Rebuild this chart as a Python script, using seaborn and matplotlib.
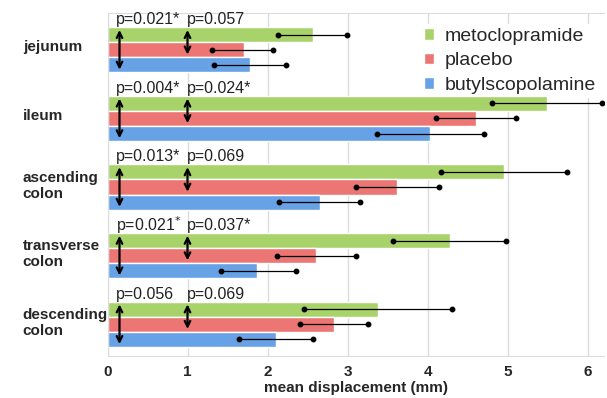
import pandas as pd
import matplotlib
matplotlib.use('Agg')
import matplotlib.pyplot as plt
import matplotlib.transforms as mtransforms
import seaborn as sns

sns.set_style('white')
plt.rcParams['font.family'] = ['Liberation Sans', 'DejaVu Sans']

# segments and treatments
segments = ['jejunum', 'ileum', 'ascending\ncolon', 'transverse\ncolon', 'descending\ncolon']
drugs = ['metoclopramide', 'placebo', 'butylscopolamine']
colors = ['#a8d26a', '#eb7673', '#68a2e6']

# mean displacement (mm)
metoclopramide = [2.57, 5.49, 4.96, 4.28, 3.38]
placebo = [1.70, 4.60, 3.62, 2.61, 2.83]
butylscopolamine = [1.78, 4.03, 2.65, 1.87, 2.10]

# error lines (low, high) as drawn
meto_lo = [2.13, 4.80, 4.17, 3.57, 2.46]
meto_hi = [2.99, 6.18, 5.74, 4.98, 4.31]
plac_lo = [1.31, 4.11, 3.11, 2.12, 2.41]
plac_hi = [2.07, 5.10, 4.14, 3.11, 3.26]
buty_lo = [1.33, 3.37, 2.14, 1.42, 1.64]
buty_hi = [2.23, 4.71, 3.15, 2.35, 2.57]

# p-values (vs butylscopolamine, vs placebo)
p_buty = ['p=0.021*', 'p=0.004*', 'p=0.013*', 'p=0.021$^{*}$', 'p=0.056']
p_plac = ['p=0.057', 'p=0.024*', 'p=0.069', 'p=0.037*', 'p=0.069']

df = pd.DataFrame({
    'segment': segments * 3,
    'drug': [d for d in drugs for _ in segments],
    'value': metoclopramide + placebo + butylscopolamine,
    'lo': meto_lo + plac_lo + buty_lo,
    'hi': meto_hi + plac_hi + buty_hi,
})

fig = plt.figure(figsize=(6.07, 3.98), dpi=100)
ax = fig.add_axes([107.5 / 607, 1 - 355.7 / 398, (603.5 - 107.5) / 607, (355.7 - 12.7) / 398])

sns.barplot(data=df, y='segment', x='value', hue='drug', order=segments, hue_order=drugs,
            palette=colors, orient='h', width=0.66, saturation=1, errorbar=None, ax=ax, zorder=2)

# error lines with dots, following bar order
for bar, (_, row) in zip(ax.patches, df.iterrows()):
    yc = bar.get_y() + bar.get_height() / 2
    ax.plot([row['lo'], row['hi']], [yc, yc], color='black', lw=0.9, zorder=4,
            marker='o', markersize=3.2)

# double arrows and p-values
n = len(segments)
for i in range(n):
    g = ax.patches[i]
    r = ax.patches[n + i]
    b = ax.patches[2 * n + i]
    top = g.get_y()
    ax.annotate('', xy=(0.15, top), xytext=(0.15, b.get_y() + b.get_height()),
                arrowprops=dict(arrowstyle='<->', color='black', lw=1.6, mutation_scale=10), zorder=5)
    ax.annotate('', xy=(1.0, top), xytext=(1.0, r.get_y() + r.get_height()),
                arrowprops=dict(arrowstyle='<->', color='black', lw=1.6, mutation_scale=10), zorder=5)
    ax.text(0.1, i - 0.44, p_buty[i], fontsize=11.5, va='center', ha='left', color='#222222')
    ax.text(0.99, i - 0.44, p_plac[i], fontsize=11.5, va='center', ha='left', color='#222222')

ax.set_xlim(0, 6.2)
ax.set_ylim(4.459, -0.541)
ax.set_xticks(range(7))
ax.set_xticklabels([str(t) for t in range(7)], fontsize=11, fontweight='bold')
ax.set_yticklabels(segments, fontsize=11, fontweight='bold', ha='left')
ax.tick_params(axis='y', length=0, pad=61)
ax.tick_params(axis='x', length=0, pad=7)
# labels sit a little above the bar groups
shift = mtransforms.ScaledTranslation(0, 4 / 100, fig.dpi_scale_trans)
for lab in ax.get_yticklabels():
    lab.set_transform(lab.get_transform() + shift)
ax.set_ylabel('')
ax.set_xlabel('mean displacement (mm)', fontsize=11, fontweight='bold', labelpad=1)
ax.xaxis.grid(True, color='#dcdcdc', lw=1, zorder=0)
ax.set_axisbelow(True)
for s in ['top', 'bottom', 'left']:
    ax.spines[s].set_color('#dcdcdc')
ax.spines['right'].set_visible(False)

handles, labels = ax.get_legend_handles_labels()
leg = ax.legend(handles, labels, loc='upper left', bbox_to_anchor=(410 / 607, 1 - 14 / 398),
                bbox_transform=fig.transFigure, fontsize=14, frameon=True, facecolor='white',
                edgecolor='none', framealpha=1, fancybox=False, handlelength=0.55, handleheight=0.55,
                handletextpad=0.55, labelspacing=0.4, borderpad=0.2)
leg.set_zorder(1)

fig.savefig('out.png', dpi=100)
